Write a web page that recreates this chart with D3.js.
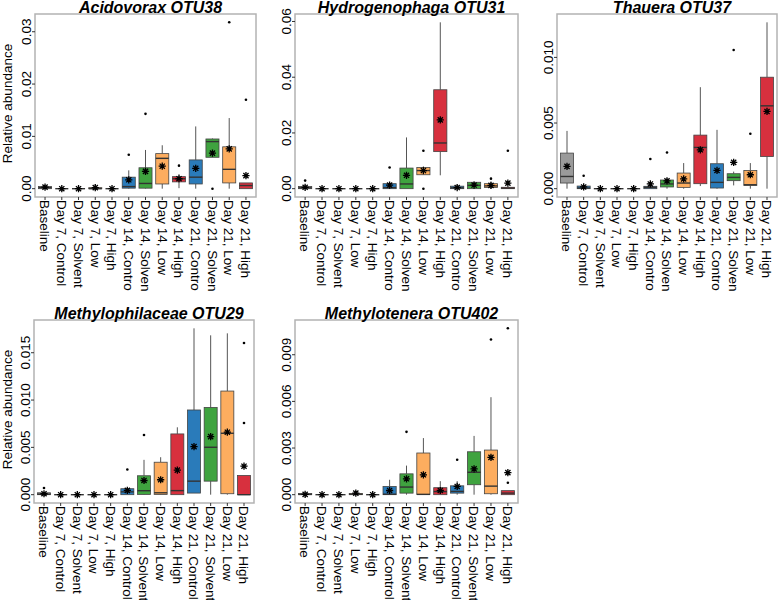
<!DOCTYPE html>
<html lang="en">
<head>
<meta charset="UTF-8">
<title>Relative abundance boxplots</title>
<script src="https://cdn.jsdelivr.net/npm/d3@7"></script>
<style>
  body { margin: 0; background: #fff; }
  text { font-family: "Liberation Sans", Arial, sans-serif; fill: #000; }
</style>
</head>
<body>
<script>
// x categories
var categories = ["Baseline", "Day 7, Control", "Day 7, Solvent", "Day 7, Low", "Day 7, High",
  "Day 14, Control", "Day 14, Solvent", "Day 14, Low", "Day 14, High",
  "Day 21, Control", "Day 21, Solvent", "Day 21, Low", "Day 21, High"];

// each row: [lower whisker, q1, median, q3, upper whisker, mean, outliers]
var acidovorax = [
  [0, 0, 0.0002, 0.0004, 0.0005, 0.0003, []],
  [0, 0, 0, 0, 0, 0, []],
  [0, 0, 0, 0, 0, 0, []],
  [0, 0, 0, 0.0002, 0.0008, 0.0002, []],
  [0, 0, 0, 0, 0, 0, []],
  [0, 0.0001, 0.0004, 0.0022, 0.0035, 0.0017, [0.0065]],
  [0, 0.0001, 0.0010, 0.0040, 0.0074, 0.0033, [0.0143]],
  [0, 0.0009, 0.0058, 0.0067, 0.0083, 0.0043, []],
  [0.0001, 0.0013, 0.0019, 0.0023, 0.0028, 0.0019, [0.0044]],
  [0, 0.0009, 0.0022, 0.0055, 0.0119, 0.0039, []],
  [0.0060, 0.0060, 0.0090, 0.0095, 0.0096, 0.0068, [0]],
  [0, 0.0011, 0.0037, 0.0080, 0.0135, 0.0076, [0.0318]],
  [0, 0, 0.0006, 0.0011, 0.0011, 0.0025, [0.0170]]
];
var hydrogenophaga = [
  [0, 0, 0.0003, 0.0008, 0.0012, 0.0005, [0.0029]],
  [0, 0, 0, 0, 0, 0, []],
  [0, 0, 0, 0, 0, 0, []],
  [0, 0, 0, 0, 0, 0, []],
  [0, 0, 0, 0, 0, 0, []],
  [0, 0, 0.0004, 0.0018, 0.0024, 0.0013, [0.0076]],
  [0, 0, 0.0017, 0.0074, 0.0184, 0.0048, []],
  [0.0050, 0.0050, 0.0065, 0.0076, 0.0080, 0.0065, [0.0136, 0]],
  [0.0048, 0.0133, 0.0164, 0.0355, 0.0597, 0.0247, []],
  [0, 0, 0.0003, 0.0009, 0.0014, 0.0004, []],
  [0, 0, 0.0012, 0.0023, 0.0025, 0.0013, []],
  [0, 0.0004, 0.0010, 0.0018, 0.0025, 0.0012, [0.0036]],
  [0, 0, 0.0002, 0.0005, 0.0005, 0.0020, [0.0136]]
];
var thauera = [
  [0, 0.00043, 0.00093, 0.00271, 0.0044, 0.0017, []],
  [0, 0, 0.00005, 0.0002, 0.0002, 0.00013, [0.00099]],
  [0, 0, 0, 0, 0, 0, []],
  [0, 0, 0, 0, 0, 0, []],
  [0, 0, 0, 0, 0, 0, []],
  [0, 0, 0.0001, 0.00018, 0.0004, 0.00036, [0.00226]],
  [0, 0.00013, 0.00036, 0.00066, 0.0008, 0.0006, [0.00276]],
  [0, 0.0001, 0.00043, 0.00119, 0.00195, 0.00074, []],
  [0.0002, 0.00038, 0.00314, 0.00408, 0.00773, 0.00296, []],
  [0, 0.00005, 0.00048, 0.0019, 0.00448, 0.00139, []],
  [0.00025, 0.00061, 0.00086, 0.00114, 0.0013, 0.0020, [0.01056]],
  [0, 0.00025, 0.0003, 0.00139, 0.00195, 0.00106, [0.00418]],
  [0, 0.00245, 0.00631, 0.00849, 0.01267, 0.00588, []]
];
var methylophilaceae = [
  [0, 0, 0.00005, 0.0002, 0.0002, 0.0001, [0.0007]],
  [0, 0, 0, 0, 0, 0, []],
  [0, 0, 0, 0, 0, 0, []],
  [0, 0, 0, 0, 0, 0, []],
  [0, 0, 0, 0, 0, 0, []],
  [0, 0, 0.0003, 0.00063, 0.0007, 0.00045, [0.00266]],
  [0, 0.00003, 0.00042, 0.0020, 0.00368, 0.0015, [0.0063]],
  [0, 0.00003, 0.0002, 0.00343, 0.00396, 0.00158, []],
  [0, 0, 0.00043, 0.00642, 0.00712, 0.00259, []],
  [0.00017, 0.00017, 0.00143, 0.00895, 0.01758, 0.00508, []],
  [0, 0.00143, 0.00501, 0.00922, 0.01684, 0.00614, []],
  [0, 0.0001, 0.00649, 0.01095, 0.01705, 0.0066, []],
  [0, 0, 0, 0.00203, 0.00203, 0.00301, [0.01603, 0.00758]]
];
var methylotenera = [
  [0, 0, 0.00002, 0.00008, 0.0001, 0.00002, []],
  [0, 0, 0, 0, 0, 0, []],
  [0, 0, 0, 0, 0, 0, []],
  [0, 0, 0.00003, 0.00008, 0.0001, 0.0001, []],
  [0, 0, 0, 0, 0, 0, []],
  [0, 0, 0.00003, 0.00053, 0.00096, 0.00027, []],
  [0, 0.0001, 0.00049, 0.00134, 0.00187, 0.00102, [0.00404]],
  [0, 0.00002, 0.00002, 0.00268, 0.00364, 0.00128, []],
  [0, 0, 0.0002, 0.00045, 0.00087, 0.00027, []],
  [0, 0.0001, 0.00021, 0.00057, 0.00087, 0.00053, [0.00225]],
  [0, 0.00064, 0.00144, 0.00276, 0.00378, 0.00166, []],
  [0, 0.00006, 0.00055, 0.00287, 0.00627, 0.0024, [0.00998]],
  [0, 0, 0.0001, 0.00026, 0.00026, 0.00142, [0.00077, 0.0107]]
];

// y tick labels
var acidovoraxTicks = [0, 0.01, 0.02, 0.03];
var hydrogenophagaTicks = [0, 0.02, 0.04, 0.06];
var thaueraTicks = [0, 0.005, 0.010];
var methylophilaceaeTicks = [0, 0.005, 0.010, 0.015];
var methyloteneraTicks = [0, 0.003, 0.006, 0.009];

var groupColor = {Baseline: "#9a9a9a", Control: "#2a7bba", Solvent: "#3fa33f", Low: "#fdad5f", High: "#d7303e"};
function colorOf(c) {
  var g = c.indexOf(",") < 0 ? c : c.split(", ")[1];
  return groupColor[g];
}

var width = 779, height = 600;
var svg = d3.select("body").append("svg").attr("width", width).attr("height", height);

// 面板位置
var panels = [
  {title: "Acidovorax OTU38", data: acidovorax, ticks: acidovoraxTicks, fmt: ".2f", x0: 35, x1: 256, y0: 14, y1: 197, ylab: true, clip: true},
  {title: "Hydrogenophaga OTU31", data: hydrogenophaga, ticks: hydrogenophagaTicks, fmt: ".2f", x0: 295, x1: 518, y0: 14, y1: 197, clip: true},
  {title: "Thauera OTU37", data: thauera, ticks: thaueraTicks, fmt: ".3f", x0: 557, x1: 777, y0: 14, y1: 197, clip: true},
  {title: "Methylophilaceae OTU29", data: methylophilaceae, ticks: methylophilaceaeTicks, fmt: ".3f", x0: 34, x1: 254, y0: 320, y1: 503, ylab: true},
  {title: "Methylotenera OTU402", data: methylotenera, ticks: methyloteneraTicks, fmt: ".3f", x0: 295, x1: 518, y0: 320, y1: 503}
];

// 上排的x标签在下方被截断
svg.append("defs").append("clipPath").attr("id", "topclip")
  .append("rect").attr("x", 0).attr("y", 0).attr("width", width).attr("height", 291);

function asterisk(r) {
  var a = r * 0.72;
  return "M" + (-r) + ",0L" + r + ",0M0," + (-r) + "L0," + r +
    "M" + (-a) + "," + (-a) + "L" + a + "," + a + "M" + (-a) + "," + a + "L" + a + "," + (-a);
}

panels.forEach(function(p) {
  var g = svg.append("g");
  if (p.clip) g.attr("clip-path", "url(#topclip)");

  var x = d3.scalePoint().domain(categories).range([p.x0, p.x1]).padding(0.6);
  var maxV = d3.max(p.data, function(d) { return d3.max([d[4], d[5]].concat(d[6])); });
  var ext = maxV * 0.05;
  var y = d3.scaleLinear().domain([-ext, maxV + ext]).range([p.y1, p.y0]);
  var bw = x.step() * 0.78;

  // 边框
  g.append("rect").attr("x", p.x0).attr("y", p.y0)
    .attr("width", p.x1 - p.x0).attr("height", p.y1 - p.y0)
    .attr("fill", "#fff").attr("stroke", "#b3b3b3").attr("stroke-width", 1.5);

  // y axis
  var yt = g.append("g");
  yt.selectAll("line").data(p.ticks).enter().append("line")
    .attr("x1", p.x0 - 3).attr("x2", p.x0)
    .attr("y1", function(d) { return y(d); }).attr("y2", function(d) { return y(d); })
    .attr("stroke", "#333").attr("stroke-width", 1);
  yt.selectAll("text").data(p.ticks).enter().append("text")
    .attr("transform", function(d) { return "translate(" + (p.x0 - 4) + "," + y(d) + ") rotate(-90)"; })
    .attr("text-anchor", "middle")
    .attr("font-size", "13.5px")
    .text(function(d) { return d3.format(p.fmt)(d); });

  if (p.ylab) {
    g.append("text")
      .attr("transform", "translate(12," + ((p.y0 + p.y1) / 2 - 2) + ") rotate(-90)")
      .attr("text-anchor", "middle").attr("font-size", "13.5px")
      .text("Relative abundance");
  }

  // x axis
  var xt = g.append("g");
  xt.selectAll("line").data(categories).enter().append("line")
    .attr("x1", function(d) { return x(d); }).attr("x2", function(d) { return x(d); })
    .attr("y1", p.y1).attr("y2", p.y1 + 3)
    .attr("stroke", "#333").attr("stroke-width", 1);
  xt.selectAll("text").data(categories).enter().append("text")
    .attr("transform", function(d) { return "translate(" + x(d) + "," + (p.y1 + 3) + ") rotate(90)"; })
    .attr("dy", "0.35em")
    .attr("font-size", "13.5px")
    .text(function(d) { return d; });

  // title
  g.append("text")
    .attr("x", (p.x0 + p.x1) / 2 + 5).attr("y", p.y0 - 1.5)
    .attr("text-anchor", "middle")
    .attr("font-size", "16px").attr("font-weight", "bold").attr("font-style", "italic")
    .text(p.title);

  // boxes
  var box = g.selectAll("g.box").data(p.data).enter().append("g").attr("class", "box")
    .attr("transform", function(d, i) { return "translate(" + x(categories[i]) + ",0)"; });

  box.append("line")
    .attr("y1", function(d) { return y(d[4]); }).attr("y2", function(d) { return y(d[3]); })
    .attr("stroke", "#555").attr("stroke-width", 1);
  box.append("line")
    .attr("y1", function(d) { return y(d[1]); }).attr("y2", function(d) { return y(d[0]); })
    .attr("stroke", "#555").attr("stroke-width", 1);
  box.append("rect")
    .attr("x", -bw / 2).attr("width", bw)
    .attr("y", function(d) { return y(d[3]); })
    .attr("height", function(d) { return Math.max(0, y(d[1]) - y(d[3])); })
    .attr("fill", function(d, i) { return colorOf(categories[i]); })
    .attr("stroke", "#444").attr("stroke-width", 0.8);
  box.append("line")
    .attr("x1", -bw / 2).attr("x2", bw / 2)
    .attr("y1", function(d) { return y(d[2]); }).attr("y2", function(d) { return y(d[2]); })
    .attr("stroke", "#333").attr("stroke-width", 1.4);

  box.selectAll("circle").data(function(d) { return d[6]; }).enter().append("circle")
    .attr("cx", 0).attr("cy", function(v) { return y(v); }).attr("r", 1.3)
    .attr("fill", "#000");

  box.append("path")
    .attr("transform", function(d) { return "translate(0," + y(d[5]) + ")"; })
    .attr("d", asterisk(3.6))
    .attr("stroke", "#000").attr("stroke-width", 1.3).attr("fill", "none");
});
</script>
</body>
</html>
